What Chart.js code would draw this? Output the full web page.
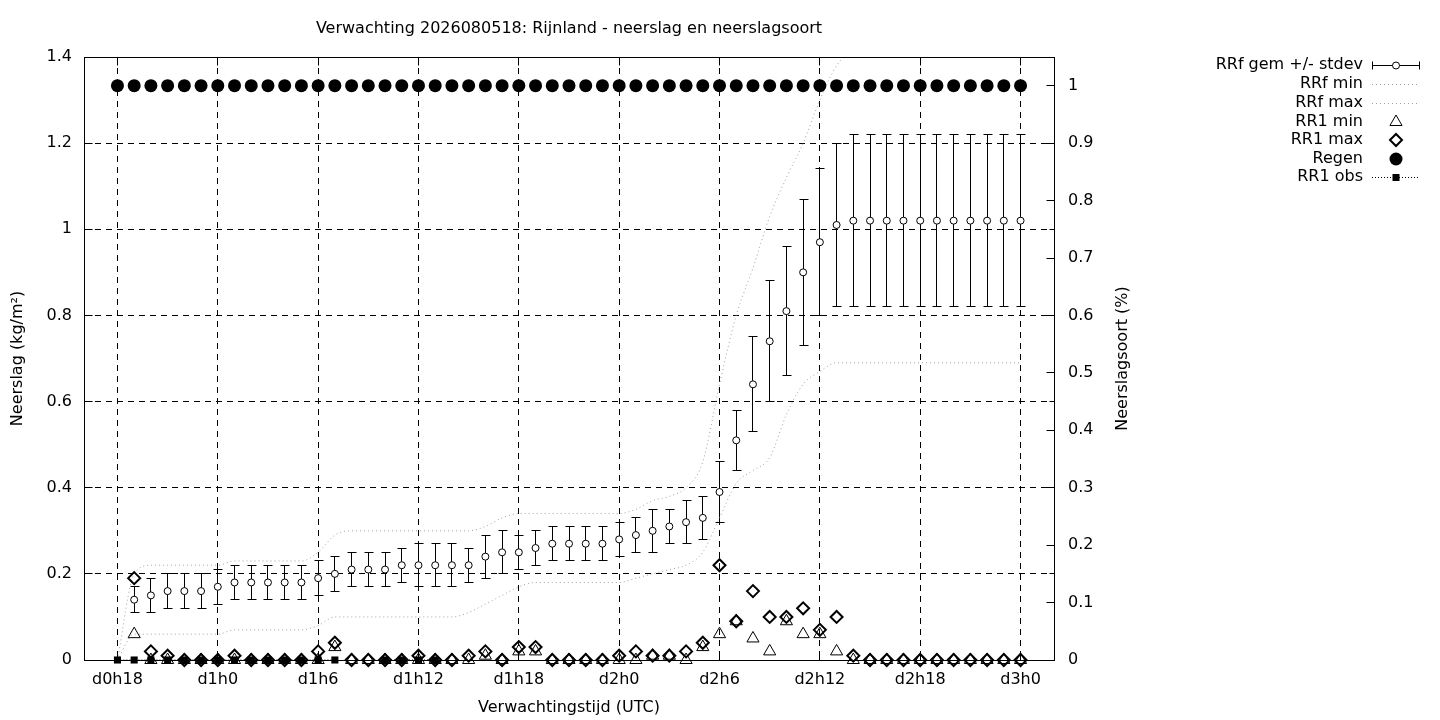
<!DOCTYPE html>
<html>
<head>
<meta charset="utf-8">
<script src="https://cdn.jsdelivr.net/npm/chart.js@4/dist/chart.umd.min.js"></script>
<style>
html,body{margin:0;padding:0;background:#fff;}
#wrap{position:relative;width:1440px;height:720px;}
</style>
</head>
<body>
<div id="wrap"><canvas id="c" width="1440" height="720"></canvas></div>
<script>
// ---- data (forecast hour since d0h0) ----
const hours = [18,19,20,21,22,23,24,25,26,27,28,29,30,31,32,33,34,35,36,37,38,39,40,41,42,43,44,45,
  46,47,48,49,50,51,52,53,54,55,56,57,58,59,60,61,62,63,64,65,66,67,68,69,70,71,72];
const xTickValues = [18,24,30,36,42,48,54,60,66,72];
const yTickValues = [0,0.2,0.4,0.6,0.8,1,1.2,1.4];
const y2TickValues = [0,0.1,0.2,0.3,0.4,0.5,0.6,0.7,0.8,0.9,1];

const rrfMean = [null,0.14,0.15,0.16,0.16,0.16,0.17,0.18,0.18,0.18,0.18,0.18,0.19,0.20,0.21,0.21,0.21,0.22,0.22,0.22,
  0.22,0.22,0.24,0.25,0.25,0.26,0.27,0.27,0.27,0.27,0.28,0.29,0.30,0.31,0.32,0.33,0.39,0.51,0.64,0.74,0.81,0.90,0.97,1.01,
  1.02,1.02,1.02,1.02,1.02,1.02,1.02,1.02,1.02,1.02,1.02];
const rrfStd = [null,0.03,0.04,0.04,0.04,0.04,0.04,0.04,0.04,0.04,0.04,0.04,0.04,0.04,0.04,0.04,0.04,0.04,0.05,0.05,
  0.05,0.04,0.05,0.05,0.04,0.04,0.04,0.04,0.04,0.04,0.04,0.04,0.05,0.04,0.05,0.05,0.07,0.07,0.11,0.14,0.15,0.17,0.17,0.19,
  0.20,0.20,0.20,0.20,0.20,0.20,0.20,0.20,0.20,0.20,0.20];
const rrfMin = [0,0.06,0.06,0.06,0.06,0.06,0.06,0.07,0.07,0.07,0.07,0.07,0.08,0.10,0.10,0.10,0.10,0.10,0.10,0.10,
  0.10,0.11,0.13,0.15,0.17,0.18,0.18,0.18,0.18,0.18,0.18,0.19,0.20,0.21,0.22,0.25,0.33,0.41,0.44,0.47,0.57,0.64,0.67,0.69,
  0.69,0.69,0.69,0.69,0.69,0.69,0.69,0.69,0.69,0.69,0.69];
const rrfMax = [0,0.20,0.22,0.22,0.22,0.22,0.22,0.23,0.23,0.23,0.23,0.23,0.25,0.29,0.30,0.30,0.30,0.30,0.30,0.30,
  0.30,0.30,0.31,0.33,0.34,0.34,0.34,0.34,0.34,0.34,0.34,0.35,0.37,0.38,0.40,0.46,0.64,0.80,0.91,1.03,1.12,1.20,1.30,1.38,
  1.42,1.45,1.45,1.45,1.45,1.45,1.45,1.45,1.45,1.45,1.45];
const rr1Min = [null,0.06,0,0,0,0,0,0,0,0,0,0,0,0.03,0,0,0,0,0,0,
  0,0,0.01,0,0.02,0.02,0,0,0,0,0,0,0.01,0.01,0,0.03,0.06,0.09,0.05,0.02,0.09,0.06,0.06,0.02,
  0,0,0,0,0,0,0,0,0,0,0];
const rr1Max = [null,0.19,0.02,0.01,0,0,0,0.01,0,0,0,0,0.02,0.04,0,0,0,0,0.01,0,
  0,0.01,0.02,0,0.03,0.03,0,0,0,0,0.01,0.02,0.01,0.01,0.02,0.04,0.22,0.09,0.16,0.10,0.10,0.12,0.07,0.10,
  0.01,0,0,0,0,0,0,0,0,0,0];
const regen = [1,1,1,1,1,1,1,1,1,1,1,1,1,1,1,1,1,1,1,1,1,1,1,1,1,1,1,1,
  1,1,1,1,1,1,1,1,1,1,1,1,1,1,1,1,1,1,1,1,1,1,1,1,1,1,1];
const rr1Obs = [0,0,0,0,0,0,0,0,0,0,0,0,0,0,null,null,0,0,0,0,null,null,null,null,null,null,null,null,
  null,null,null,null,null,null,null,null,null,null,null,null,null,null,null,null,null,null,null,null,null,null,null,null,null,null,null];

const titleText = 'Verwachting 2026080518: Rijnland - neerslag en neerslagsoort';
const legendLabels = ['RRf gem +/- stdev','RRf min','RRf max','RR1 min','RR1 max','Regen','RR1 obs'];

// ---- helpers ----
const FONT = 'DejaVu Sans';
const FS = 16;
const pts = (arr) => hours.map((h, i) => (arr[i] === null ? null : {x: h, y: arr[i]})).filter(p => p !== null);
const gapPts = (arr) => hours.map((h, i) => ({x: h, y: arr[i]}));
const lowArr = rrfMean.map((m, i) => m === null ? null : +(m - rrfStd[i]).toFixed(3));
const highArr = rrfMean.map((m, i) => m === null ? null : +(m + rrfStd[i]).toFixed(3));
const stems = hours.map((h, i) => rrfMean[i] === null ? null : {x: h, y: [lowArr[i], highArr[i]]}).filter(p => p);
const fmtHour = (v) => 'd' + Math.floor(v / 24) + 'h' + (v % 24);
const crisp = (p) => Math.round(p - 0.5) + 0.5;

// crisp error bars: drawn from the floating-bar elements' scale positions
const errorBars = {
  id: 'errorBars',
  afterDatasetDraw(chart, args) {
    if (args.meta.type !== 'bar') return;
    const ctx = chart.ctx;
    ctx.save();
    ctx.strokeStyle = '#000';
    ctx.lineWidth = 1;
    ctx.setLineDash([]);
    ctx.beginPath();
    args.meta.data.forEach(el => {
      const x = crisp(el.x);
      const yt = crisp(Math.min(el.y, el.base));
      const yb = crisp(Math.max(el.y, el.base));
      ctx.moveTo(x, yt); ctx.lineTo(x, yb);
      ctx.moveTo(x - 4, yt); ctx.lineTo(x + 5, yt);
      ctx.moveTo(x - 4, yb); ctx.lineTo(x + 5, yb);
    });
    ctx.stroke();
    ctx.restore();
  }
};

const deco = {
  id: 'deco',
  afterDraw(chart) {
    const ctx = chart.ctx;
    const a = chart.chartArea;
    const sx = chart.scales.x, sy = chart.scales.y, sy2 = chart.scales.y2;
    const L = crisp(a.left), R = crisp(a.right);
    const T = crisp(a.top), B = crisp(a.bottom);
    ctx.save();
    ctx.strokeStyle = '#000';
    ctx.lineWidth = 1;
    ctx.setLineDash([]);
    ctx.strokeRect(L, T, R - L, B - T);
    ctx.beginPath();
    xTickValues.forEach(v => {
      const px = crisp(sx.getPixelForValue(v));
      ctx.moveTo(px, B); ctx.lineTo(px, B - 8);
      ctx.moveTo(px, T); ctx.lineTo(px, T + 8);
    });
    yTickValues.forEach(v => {
      const py = crisp(sy.getPixelForValue(v));
      ctx.moveTo(L, py); ctx.lineTo(L + 8, py);
      ctx.moveTo(R, py); ctx.lineTo(R - 5, py);
    });
    y2TickValues.forEach(v => {
      const py = crisp(sy2.getPixelForValue(v));
      ctx.moveTo(R, py); ctx.lineTo(R - 8, py);
    });
    ctx.stroke();
    ctx.fillStyle = '#000';
    ctx.font = FS + 'px "' + FONT + '"';
    ctx.textAlign = 'center';
    ctx.textBaseline = 'middle';
    ctx.fillText(titleText, (a.left + a.right) / 2, 29);
    ctx.save();
    ctx.translate(1123, (a.top + a.bottom) / 2);
    ctx.rotate(-Math.PI / 2);
    ctx.fillText('Neerslagsoort (%)', 0, 0);
    ctx.restore();
    // legend
    const rows = [65, 84, 103, 122, 140, 159, 177];
    const tx = 1363, x0 = 1372, x1 = 1420, xc = 1396;
    ctx.textAlign = 'right';
    legendLabels.forEach((lab, i) => ctx.fillText(lab, tx, rows[i]));
    let y = rows[0] + 0.5;
    ctx.beginPath();
    ctx.moveTo(x0, y); ctx.lineTo(x1, y);
    ctx.moveTo(x0 + 0.5, y - 4); ctx.lineTo(x0 + 0.5, y + 4);
    ctx.moveTo(x1 - 0.5, y - 4); ctx.lineTo(x1 - 0.5, y + 4);
    ctx.stroke();
    ctx.beginPath(); ctx.arc(xc, y, 3.5, 0, Math.PI * 2);
    ctx.fillStyle = '#fff'; ctx.fill(); ctx.stroke();
    ctx.strokeStyle = '#a0a0a0';
    ctx.setLineDash([1, 3]);
    [rows[1], rows[2]].forEach(yy => {
      ctx.beginPath(); ctx.moveTo(x0, yy + 0.5); ctx.lineTo(x1, yy + 0.5); ctx.stroke();
    });
    ctx.setLineDash([]);
    ctx.strokeStyle = '#000';
    y = rows[3];
    const r = 7;
    ctx.beginPath();
    ctx.moveTo(xc, y - r);
    ctx.lineTo(xc + r * Math.sin(2 * Math.PI / 3), y - r * Math.cos(2 * Math.PI / 3));
    ctx.lineTo(xc + r * Math.sin(4 * Math.PI / 3), y - r * Math.cos(4 * Math.PI / 3));
    ctx.closePath(); ctx.stroke();
    y = rows[4];
    ctx.lineWidth = 2;
    ctx.beginPath();
    ctx.moveTo(xc - 6, y); ctx.lineTo(xc, y - 6); ctx.lineTo(xc + 6, y); ctx.lineTo(xc, y + 6);
    ctx.closePath(); ctx.stroke();
    ctx.lineWidth = 1;
    y = rows[5];
    ctx.fillStyle = '#000';
    ctx.beginPath(); ctx.arc(xc, y, 6.5, 0, Math.PI * 2); ctx.fill();
    y = rows[6] + 0.5;
    ctx.setLineDash([1, 2]);
    ctx.beginPath(); ctx.moveTo(x0, y); ctx.lineTo(x1, y); ctx.stroke();
    ctx.setLineDash([]);
    ctx.fillRect(xc - 3.5, y - 3.5, 7, 7);
    ctx.restore();
  }
};

const gridCommon = {color: '#000', lineWidth: 1, drawTicks: false, offset: false};
const tickFont = {family: FONT, size: FS};

new Chart(document.getElementById('c'), {
  type: 'line',
  data: {
    datasets: [
      {type: 'bar', label: 'RRf stdev', data: stems, backgroundColor: 'rgba(0,0,0,0)', borderWidth: 0,
        barThickness: 1, xAxisID: 'x', yAxisID: 'y', order: 10},
      {label: 'RRf gem +/- stdev', data: pts(rrfMean), showLine: false, pointStyle: 'circle', pointRadius: 3.5,
        pointBackgroundColor: '#fff', pointBorderColor: '#000', pointBorderWidth: 1, yAxisID: 'y', order: 8, clip: false},
      {label: 'RRf min', data: pts(rrfMin), borderColor: '#a0a0a0', borderWidth: 1, borderDash: [1, 3],
        pointRadius: 0, cubicInterpolationMode: 'monotone', fill: false, yAxisID: 'y', order: 7},
      {label: 'RRf max', data: pts(rrfMax), borderColor: '#a0a0a0', borderWidth: 1, borderDash: [1, 3],
        pointRadius: 0, cubicInterpolationMode: 'monotone', fill: false, yAxisID: 'y', order: 6},
      {label: 'RR1 min', data: pts(rr1Min), showLine: false, pointStyle: 'triangle', pointRadius: 7,
        pointBackgroundColor: 'rgba(0,0,0,0)', pointBorderColor: '#000', pointBorderWidth: 1, yAxisID: 'y', order: 5, clip: false},
      {label: 'RR1 max', data: pts(rr1Max), showLine: false, pointStyle: 'rectRot', pointRadius: 6,
        pointBackgroundColor: 'rgba(0,0,0,0)', pointBorderColor: '#000', pointBorderWidth: 2, yAxisID: 'y', order: 4, clip: false},
      {label: 'Regen', data: pts(regen), showLine: false, pointStyle: 'circle', pointRadius: 6.5,
        pointBackgroundColor: '#000', pointBorderColor: '#000', pointBorderWidth: 0, yAxisID: 'y2', order: 3, clip: false},
      {label: 'RR1 obs', data: gapPts(rr1Obs), borderColor: '#000', borderWidth: 1, borderDash: [1, 2], spanGaps: false,
        pointStyle: 'rect', pointRadius: 5, pointBackgroundColor: '#000', pointBorderWidth: 0, yAxisID: 'y', order: 2, clip: false}
    ]
  },
  options: {
    responsive: false,
    animation: false,
    devicePixelRatio: 1,
    layout: {padding: {top: 57, right: 326, bottom: 0, left: 0}},
    plugins: {legend: {display: false}, tooltip: {enabled: false}, title: {display: false}},
    scales: {
      x: {
        type: 'linear', position: 'bottom', min: 16, max: 74, offset: false,
        afterBuildTicks: s => { s.ticks = xTickValues.map(v => ({value: v})); },
        afterFit: s => { s.height = 60; },
        ticks: {callback: v => fmtHour(v), font: tickFont, color: '#000', padding: 10, maxRotation: 0, autoSkip: false},
        grid: gridCommon,
        border: {display: false, dash: [6, 5]},
        title: {display: true, text: 'Verwachtingstijd (UTC)', font: tickFont, color: '#000', padding: {top: 0, bottom: 3}}
      },
      y: {
        type: 'linear', position: 'left', min: 0, max: 1.4,
        afterBuildTicks: s => { s.ticks = yTickValues.map(v => ({value: v})); },
        afterFit: s => { s.width = 84; },
        ticks: {callback: v => String(+v.toFixed(1)), font: tickFont, color: '#000', padding: 12},
        grid: gridCommon,
        border: {display: false, dash: [6, 5]},
        title: {display: true, text: 'Neerslag (kg/m²)', font: tickFont, color: '#000', padding: {top: 8, bottom: 0}}
      },
      y2: {
        type: 'linear', position: 'right', min: 0, max: 1.05,
        afterBuildTicks: s => { s.ticks = y2TickValues.map(v => ({value: v})); },
        afterFit: s => { s.width = 60; },
        ticks: {callback: v => String(+v.toFixed(1)), font: tickFont, color: '#000', padding: 14},
        grid: {display: false, drawTicks: false},
        border: {display: false}
      }
    }
  },
  plugins: [errorBars, deco]
});
</script>
</body>
</html>
